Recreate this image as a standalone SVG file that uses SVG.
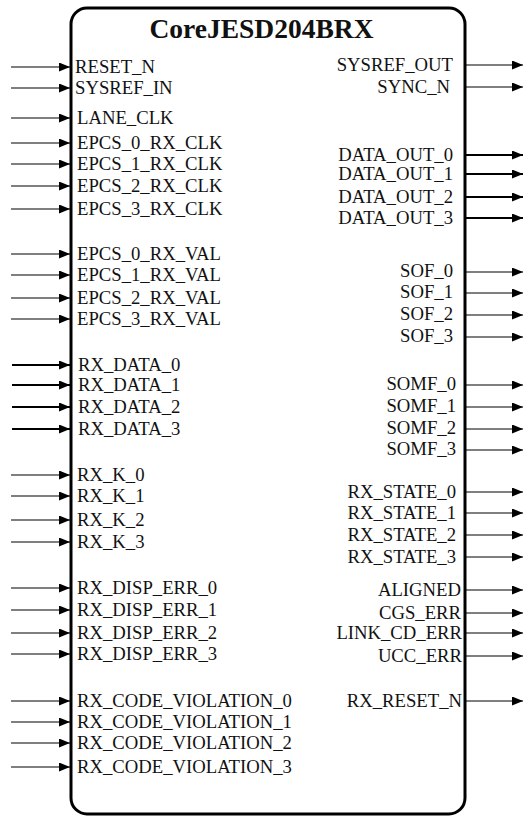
<svg xmlns="http://www.w3.org/2000/svg" width="525" height="817" viewBox="0 0 525 817">
<style>
text{font-family:"Liberation Serif","Times New Roman",serif;font-size:18.7px;fill:#111}
.title{font-size:27.5px;font-weight:bold;text-anchor:middle}
.r{text-anchor:end}
.w{stroke:#000;stroke-width:1.2;fill:none}
.b{stroke:#000;stroke-width:2.2;fill:none}
</style>
<defs>
<marker id="ah" markerUnits="userSpaceOnUse" markerWidth="11" markerHeight="9" refX="11" refY="4.5" orient="auto">
<path d="M0,0 L11,4.5 L0,9 z" fill="#000"/>
</marker>
</defs>
<g id="block">
<rect x="71" y="8" width="394" height="806" rx="16" ry="16" fill="#fff" stroke="#000" stroke-width="3"/>
<text class="title" x="261.5" y="38">CoreJESD204BRX</text>
</g>
<g id="connectors">
<g marker-end="url(#ah)">
<line class="w" x1="11" y1="67" x2="70" y2="67"/>
<line class="w" x1="11" y1="88" x2="70" y2="88"/>
<line class="w" x1="11" y1="118" x2="70" y2="118"/>
<line class="w" x1="11" y1="143" x2="70" y2="143"/>
<line class="w" x1="11" y1="164" x2="70" y2="164"/>
<line class="w" x1="11" y1="186" x2="70" y2="186"/>
<line class="w" x1="11" y1="209" x2="70" y2="209"/>
<line class="w" x1="11" y1="254" x2="70" y2="254"/>
<line class="w" x1="11" y1="275" x2="70" y2="275"/>
<line class="w" x1="11" y1="298" x2="70" y2="298"/>
<line class="w" x1="11" y1="319" x2="70" y2="319"/>
<line class="b" x1="12" y1="365" x2="70" y2="365"/>
<line class="b" x1="12" y1="385" x2="70" y2="385"/>
<line class="b" x1="12" y1="407" x2="70" y2="407"/>
<line class="b" x1="12" y1="429" x2="70" y2="429"/>
<line class="w" x1="11" y1="475" x2="70" y2="475"/>
<line class="w" x1="11" y1="496" x2="70" y2="496"/>
<line class="w" x1="11" y1="520" x2="70" y2="520"/>
<line class="w" x1="11" y1="542" x2="70" y2="542"/>
<line class="w" x1="11" y1="588" x2="70" y2="588"/>
<line class="w" x1="11" y1="610" x2="70" y2="610"/>
<line class="w" x1="11" y1="633" x2="70" y2="633"/>
<line class="w" x1="11" y1="654" x2="70" y2="654"/>
<line class="w" x1="11" y1="701" x2="70" y2="701"/>
<line class="w" x1="11" y1="722" x2="70" y2="722"/>
<line class="w" x1="11" y1="743" x2="70" y2="743"/>
<line class="w" x1="11" y1="767" x2="70" y2="767"/>
<line class="w" x1="466" y1="65" x2="523" y2="65"/>
<line class="w" x1="466" y1="87" x2="523" y2="87"/>
<line class="b" x1="466" y1="155" x2="523" y2="155"/>
<line class="b" x1="466" y1="174" x2="523" y2="174"/>
<line class="b" x1="466" y1="197" x2="523" y2="197"/>
<line class="b" x1="466" y1="218" x2="523" y2="218"/>
<line class="w" x1="466" y1="272" x2="523" y2="272"/>
<line class="w" x1="466" y1="293" x2="523" y2="293"/>
<line class="w" x1="466" y1="315" x2="523" y2="315"/>
<line class="w" x1="466" y1="337" x2="523" y2="337"/>
<line class="w" x1="466" y1="385" x2="523" y2="385"/>
<line class="w" x1="466" y1="407" x2="523" y2="407"/>
<line class="w" x1="466" y1="429" x2="523" y2="429"/>
<line class="w" x1="466" y1="450" x2="523" y2="450"/>
<line class="w" x1="466" y1="492" x2="523" y2="492"/>
<line class="w" x1="466" y1="513" x2="523" y2="513"/>
<line class="w" x1="466" y1="535" x2="523" y2="535"/>
<line class="w" x1="466" y1="557" x2="523" y2="557"/>
<line class="w" x1="466" y1="590" x2="523" y2="590"/>
<line class="w" x1="466" y1="613" x2="523" y2="613"/>
<line class="w" x1="466" y1="633" x2="523" y2="633"/>
<line class="w" x1="466" y1="656" x2="523" y2="656"/>
<line class="w" x1="466" y1="701" x2="523" y2="701"/>
</g>
</g>
<g id="inputs">
<text x="75" y="73">RESET_N</text>
<text x="75" y="94">SYSREF_IN</text>
<text x="77" y="124">LANE_CLK</text>
<text x="77" y="149">EPCS_0_RX_CLK</text>
<text x="77" y="170">EPCS_1_RX_CLK</text>
<text x="77" y="192">EPCS_2_RX_CLK</text>
<text x="77" y="215">EPCS_3_RX_CLK</text>
<text x="77" y="260">EPCS_0_RX_VAL</text>
<text x="77" y="281">EPCS_1_RX_VAL</text>
<text x="77" y="304">EPCS_2_RX_VAL</text>
<text x="77" y="325">EPCS_3_RX_VAL</text>
<text x="78" y="371">RX_DATA_0</text>
<text x="78" y="391">RX_DATA_1</text>
<text x="78" y="413">RX_DATA_2</text>
<text x="78" y="435">RX_DATA_3</text>
<text x="77" y="481">RX_K_0</text>
<text x="77" y="502">RX_K_1</text>
<text x="77" y="526">RX_K_2</text>
<text x="77" y="548">RX_K_3</text>
<text x="77" y="594">RX_DISP_ERR_0</text>
<text x="77" y="616">RX_DISP_ERR_1</text>
<text x="77" y="639">RX_DISP_ERR_2</text>
<text x="77" y="660">RX_DISP_ERR_3</text>
<text x="77" y="707">RX_CODE_VIOLATION_0</text>
<text x="77" y="728">RX_CODE_VIOLATION_1</text>
<text x="77" y="749">RX_CODE_VIOLATION_2</text>
<text x="77" y="773">RX_CODE_VIOLATION_3</text>
</g>
<g id="outputs">
<text class="r" x="453" y="71">SYSREF_OUT</text>
<text class="r" x="450" y="93">SYNC_N</text>
<text class="r" x="453" y="161">DATA_OUT_0</text>
<text class="r" x="453" y="180">DATA_OUT_1</text>
<text class="r" x="453" y="203">DATA_OUT_2</text>
<text class="r" x="453" y="224">DATA_OUT_3</text>
<text class="r" x="453" y="277">SOF_0</text>
<text class="r" x="453" y="298">SOF_1</text>
<text class="r" x="453" y="320">SOF_2</text>
<text class="r" x="453" y="342">SOF_3</text>
<text class="r" x="456" y="390">SOMF_0</text>
<text class="r" x="456" y="412">SOMF_1</text>
<text class="r" x="456" y="434">SOMF_2</text>
<text class="r" x="456" y="455">SOMF_3</text>
<text class="r" x="456" y="498">RX_STATE_0</text>
<text class="r" x="456" y="519">RX_STATE_1</text>
<text class="r" x="456" y="541">RX_STATE_2</text>
<text class="r" x="456" y="563">RX_STATE_3</text>
<text class="r" x="461" y="596">ALIGNED</text>
<text class="r" x="461" y="619">CGS_ERR</text>
<text class="r" x="462" y="639">LINK_CD_ERR</text>
<text class="r" x="462" y="662">UCC_ERR</text>
<text class="r" x="462" y="707">RX_RESET_N</text>
</g>
</svg>
